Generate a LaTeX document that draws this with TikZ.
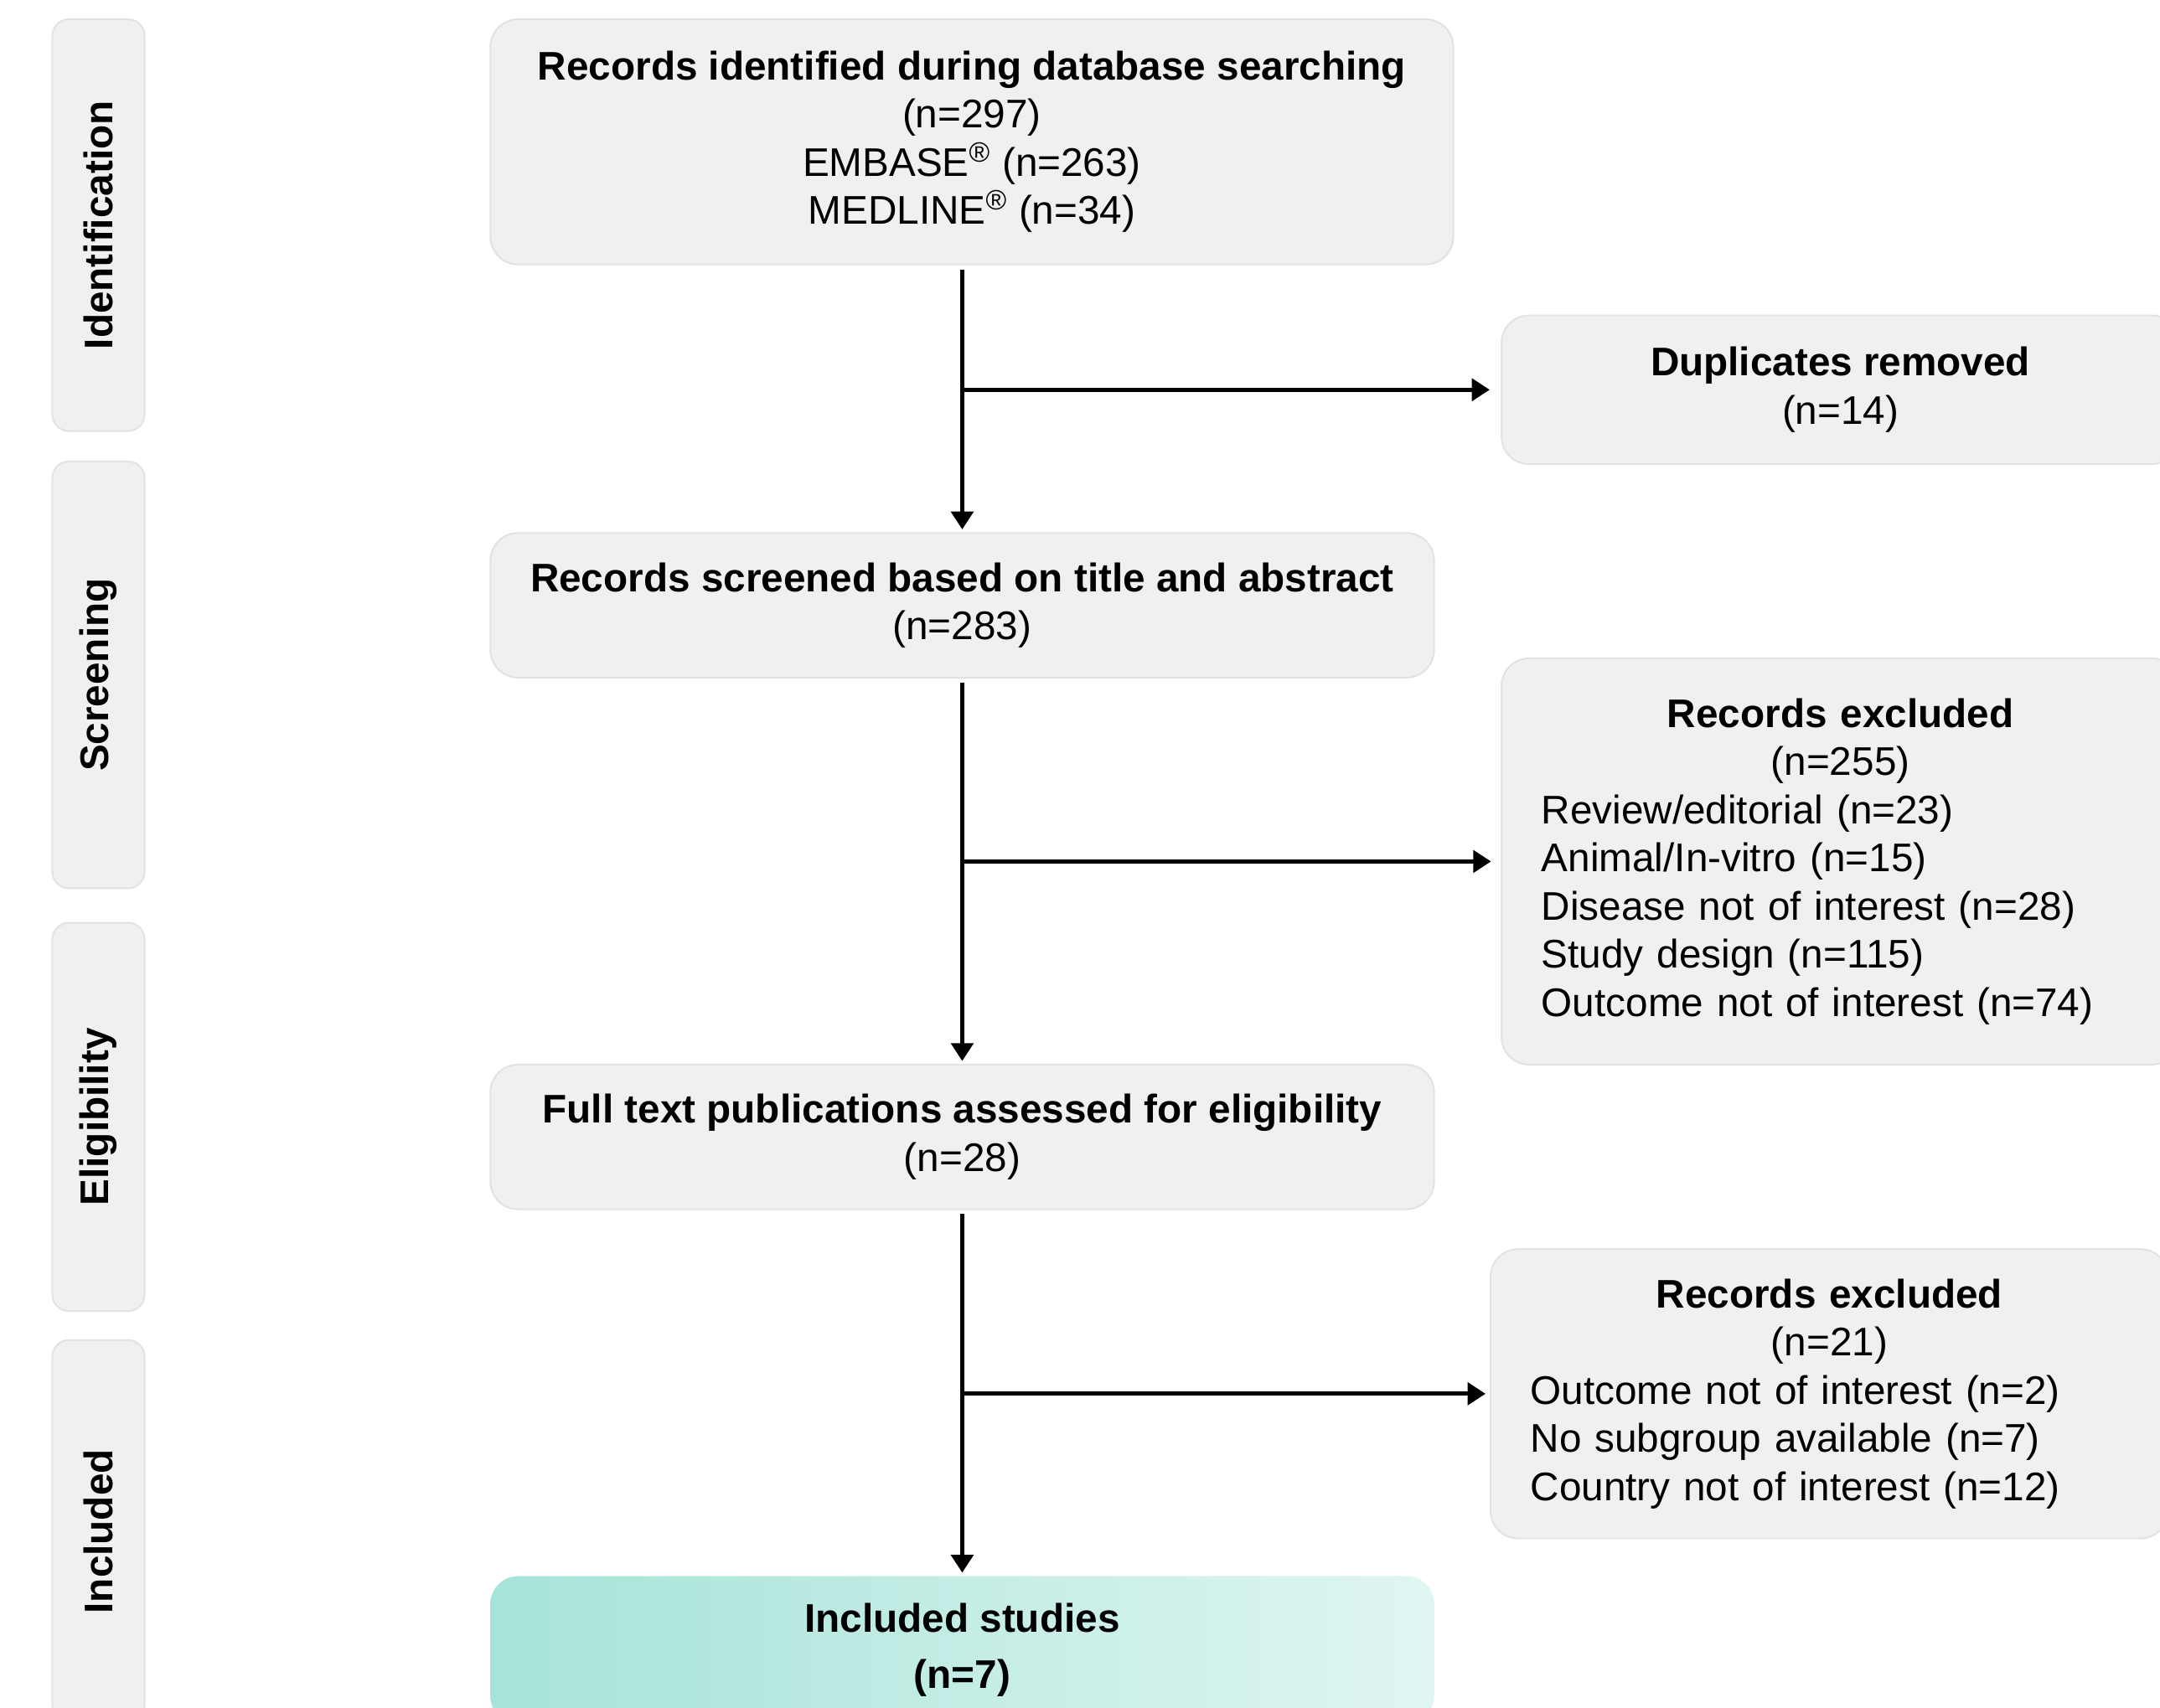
\documentclass[tikz,border=0pt]{standalone}
\usepackage{fontspec}
\setmainfont{Liberation Sans}
\usepackage{tikz}
\usetikzlibrary{arrows.meta}
\usetikzlibrary{positioning}
\definecolor{boxgray}{RGB}{240,240,240}
\definecolor{boxedge}{RGB}{226,226,226}
\definecolor{incA}{RGB}{166,227,216}
\definecolor{incB}{RGB}{224,246,242}
\tikzset{
    stage/.style={
        rotate=90,
        rounded corners=6pt,
        fill=boxgray,
        draw=boxedge,
        line width=0.6pt,
        minimum height=33.5pt,
        inner sep=0pt,
        font=\bfseries\fontsize{14.5}{17.5}\selectfont
    },
    flow box/.style={
        rounded corners=10pt,
        fill=boxgray,
        draw=boxedge,
        line width=0.6pt,
        align=center,
        inner sep=0pt,
        font=\fontsize{14.5}{17.5}\selectfont
    },
    list box/.style={
        flow box,
        align=left,
        inner xsep=14.5pt,
        text width=217pt
    },
    flow arrow/.style={
        line width=1.55pt,
        -{Triangle[length=6.5pt,width=8pt]},
        shorten <=1.5pt,
        shorten >=1pt
    }
}

\begin{document}
\begin{tikzpicture}[x=0.5pt,y=-0.5pt]
    \useasboundingbox (0,0) rectangle (1568,1240);
    % stages on the left
    \node[stage, minimum width=149.5pt] (ident) at (71.5,163.5) {Identification};
    \node[stage, minimum width=155pt] (scr) at (71.5,490) {Screening};
    \node[stage, minimum width=141pt] (elig) at (71.5,811) {Eligibility};
    \node[stage, minimum width=139pt] (incl) at (71.5,1112) {Included};
    % main flow
    \node[flow box, minimum width=349.5pt, minimum height=89pt] (search) at (705.5,103)
        {\textbf{Records identified during database searching}\\(n=297)\\
         EMBASE\textsuperscript{®} (n=263)\\MEDLINE\textsuperscript{®} (n=34)};
    \node[flow box, minimum width=342.5pt, minimum height=52.5pt] (screen) at (698.5,439.5)
        {\textbf{Records screened based on title and abstract}\\(n=283)};
    \node[flow box, minimum width=342.5pt, minimum height=52.5pt] (fulltext) at (698.5,825.5)
        {\textbf{Full text publications assessed for eligibility}\\(n=28)};
    \node[flow box, draw=none, left color=incA, right color=incB,
          minimum width=342.5pt, minimum height=53.5pt,
          font=\bfseries\fontsize{14.5}{20.5}\selectfont] (included) at (698.5,1198)
        {Included studies\\(n=7)};
    % exclusions on the right
    \node[flow box, minimum width=246pt, minimum height=54pt] (dup) at (1336,283)
        {\textbf{Duplicates removed}\\(n=14)};
    \node[list box, minimum width=246pt, minimum height=147.5pt] (excl1) at (1336,625.5)
        {\hfill\textbf{Records excluded}\hfill\null\\
         \hfill(n=255)\hfill\null\\
         Review/editorial (n=23)\\
         Animal/In-vitro (n=15)\\
         Disease not of interest (n=28)\\
         Study design (n=115)\\
         Outcome not of interest (n=74)\\[-3pt]};
    \node[list box, minimum width=245pt, minimum height=105pt] (excl2) at (1328,1012)
        {\hfill\textbf{Records excluded}\hfill\null\\
         \hfill(n=21)\hfill\null\\
         Outcome not of interest (n=2)\\
         No subgroup available (n=7)\\
         Country not of interest (n=12)};
    \foreach \a/\b/\c/\s in {search/screen/dup/4pt,screen/fulltext/excl1/3.5pt,fulltext/included/excl2/1.5pt}
    {
        \draw[flow arrow] (\a.south -| \b.north) -- (\b.north);
        \draw[flow arrow, shorten <=0pt, shorten >=\s] (\b.north |- \c.west) -- (\c.west);
    }
\end{tikzpicture}
\end{document}
